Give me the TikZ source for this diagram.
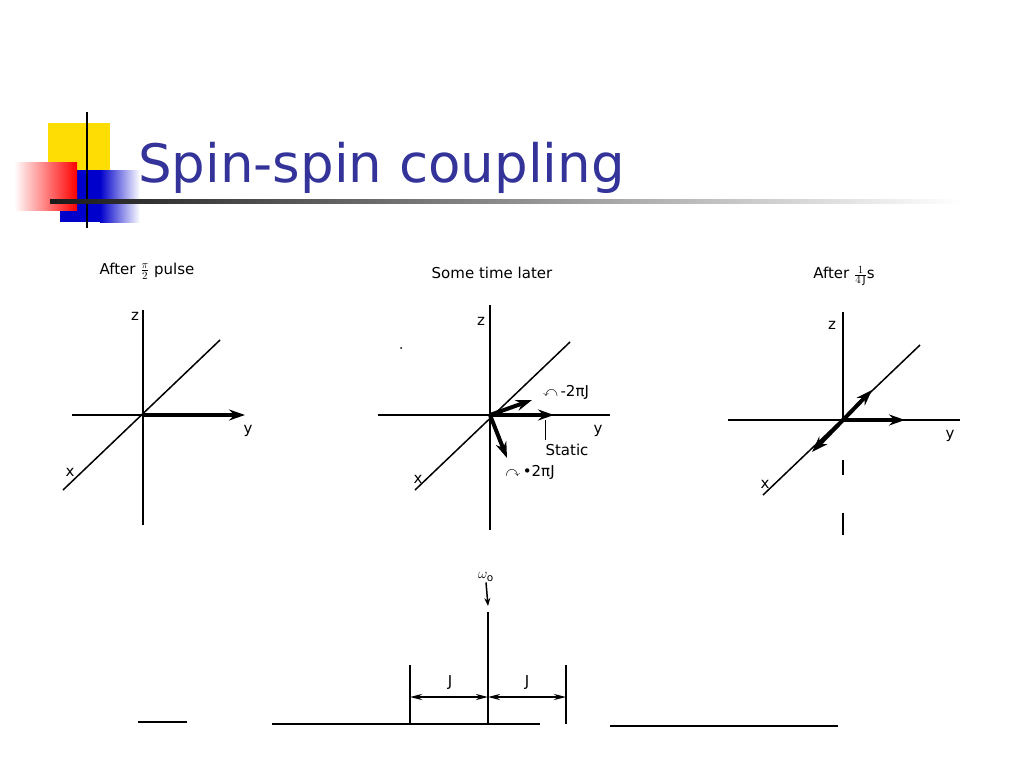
\documentclass[tikz,border=0pt]{standalone}
\usepackage{amssymb}
\usepackage{fontspec}
\setmainfont{DejaVu Sans}
\usetikzlibrary{positioning,arrows.meta}
\definecolor{titleblue}{RGB}{51,51,153}
\begin{document}
\begin{tikzpicture}[x=1pt, y=-1pt, >={Stealth[length=16pt,width=11pt]},
  axis/.style={line width=1.5pt},
  vec/.style={line width=4pt, ->},
  lbl/.style={font=\fontsize{15}{15}\selectfont, inner sep=1pt},
  hdr/.style={font=\fontsize{15}{16}\selectfont, inner sep=1pt}]
  \useasboundingbox (0,0) rectangle (1024,768);
  % title decoration
  \fill[yellow!80!orange] (48,123) rectangle (110,190);
  \fill[blue!80!black] (60,170) rectangle (100,222);
  \shade[left color=blue!80!black, right color=white] (100,170) rectangle (140,222);
  \shade[left color=white, right color=red] (14,162) rectangle (77,210);
  \draw[line width=2.5pt] (87,112) -- (87,228);
  \shade[left color=black!90, right color=white] (50,199) rectangle (960,203);
  \node[anchor=base west, text=titleblue, font=\fontsize{53}{56}\selectfont, inner sep=0pt] (title) at (138,182) {Spin-spin coupling};

  % panel 1
  \node[hdr] (h1) at (147,271) {After $\frac{\pi}{2}$ pulse};
  \coordinate (o1) at (143,415);
  \coordinate (t1) at (143,310); \coordinate (b1) at (143,525);
  \coordinate (l1) at (72,415);  \coordinate (r1) at (245,415);
  \coordinate (d1) at (63,490);  \coordinate (u1) at (220,340);
  \draw[axis] (t1) -- (b1);
  \draw[axis] (l1) -- (o1);
  \draw[axis] (d1) -- (u1);
  \draw[vec] (o1) -- (r1);
  \node[lbl] (z1) at (135,316) {z};
  \node[lbl] (y1) at (248,431) {y};
  \node[lbl] (x1) at (70,472) {x};

  % panel 2
  \node[hdr] (h2) at (492,273) {Some time later};
  \coordinate (o2) at (490,415);
  \coordinate (t2) at (490,305); \coordinate (b2) at (490,530);
  \coordinate (l2) at (378,415); \coordinate (r2) at (610,415);
  \coordinate (d2) at (415,490); \coordinate (u2) at (570,342);
  \draw[axis] (t2) -- (b2);
  \draw[axis] (l2) -- (r2);
  \draw[axis] (d2) -- (u2);
  \coordinate (s2) at (554,415); \coordinate (p2) at (532,400); \coordinate (m2) at (507,458);
  \draw[vec] (o2) -- (s2);
  \draw[vec] (o2) -- (p2);
  \draw[vec] (o2) -- (m2);
  \draw[line width=1pt] (545,420) -- (545,440);
  \fill (401,348) circle (1pt);
  \node[lbl] (z2) at (481,321) {z};
  \node[lbl] (y2) at (598,431) {y};
  \node[lbl] (x2) at (418,479) {x};
  \node[lbl] (st) at (567,450) {Static};
  \node[lbl] (mj) at (566,392) {$\curvearrowleft$\,-2πJ};
  \node[lbl] (pj) at (530,472) {$\curvearrowright$\,•2πJ};

  % panel 3
  \node[hdr] (h3) at (844,276) {After $\frac{1}{4\,\mathrm{J}}$s};
  \coordinate (o3) at (843,420);
  \coordinate (t3) at (843,312);
  \coordinate (l3) at (728,420); \coordinate (r3) at (960,420);
  \coordinate (d3) at (763,495); \coordinate (u3) at (920,345);
  \draw[axis] (t3) -- (o3);
  \draw[axis] (843,460) -- (843,475);
  \draw[axis] (843,513) -- (843,535);
  \draw[axis] (l3) -- (r3);
  \draw[axis] (d3) -- (u3);
  \coordinate (s3) at (905,420); \coordinate (p3) at (872,390); \coordinate (m3) at (812,452);
  \draw[vec] (o3) -- (s3);
  \draw[vec] (o3) -- (p3);
  \draw[vec] (o3) -- (m3);
  \node[lbl] (z3) at (832,325) {z};
  \node[lbl] (y3) at (950,436) {y};
  \node[lbl] (x3) at (765,484) {x};

  % spectrum
  \draw[line width=1.5pt] (138,722) -- (187,722);
  \draw[line width=1.5pt] (272,724) -- (540,724);
  \draw[line width=1.5pt] (610,726) -- (838,726);
  \coordinate (pk) at (488,612); \coordinate (pb) at (488,724);
  \draw[line width=1.8pt] (pk) -- (pb);
  \node[lbl] (w0) at (486,577) {$\omega_{\mathrm{o}}$};
  \draw[line width=1.5pt, ->, >={Stealth[length=8pt,width=6pt]}] (w0.south) -- (488,606);
  \coordinate (jl) at (410,665); \coordinate (jr) at (566,665);
  \draw[line width=1.5pt] (jl) -- (410,724);
  \draw[line width=1.5pt] (jr) -- (566,724);
  \draw[line width=2pt, <->, >={Stealth[length=12pt,width=6pt]}] (410,697) -- (488,697);
  \draw[line width=2pt, <->, >={Stealth[length=12pt,width=6pt]}] (488,697) -- (566,697);
  \node[lbl] (j1) at (450,683) {J};
  \node[lbl] (j2) at (527,683) {J};
\end{tikzpicture}
\end{document}
